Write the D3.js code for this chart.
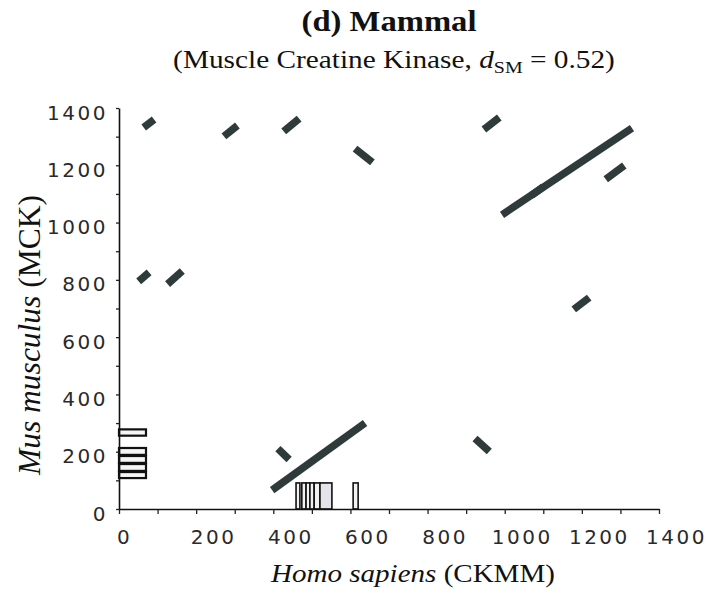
<!DOCTYPE html>
<html><head><meta charset="utf-8">
<script src="https://cdn.jsdelivr.net/npm/d3@7"></script>
<style>html,body{margin:0;padding:0;background:#fff;} svg{display:block}</style>
</head><body>
<svg id="chart" width="728" height="593"></svg>
<script>
// ---- data (sequence positions) ----
const xTickValues = [0,100,200,300,400,500,600,700,800,900,1000,1100,1200,1300,1400];
const xTickLabels = ["0","","200","","400","","600","","800","","1000","","1200","","1400"];
const yTickValues = [0,100,200,300,400,500,600,700,800,900,1000,1100,1200,1300,1400];
const yTickLabels = ["0","","200","","400","","600","","800","","1000","","1200","","1400"];

// alignment (dot-plot) segments: start (x0,y0) -> end (x1,y1)
const alignX0 = [64, 272, 427, 612, 946, 51, 126, 993, 1070, 1262, 1179, 923, 397, 412];
const alignY0 = [1332, 1301, 1318, 1258, 1325, 795, 785, 1027, 1095, 1151, 697, 246, 66, 211];
const alignX1 = [91, 307, 467, 657, 986, 78, 164, 1330, 1100, 1310, 1219, 960, 638, 441];
const alignY1 = [1360, 1339, 1363, 1210, 1367, 826, 831, 1330, 1125, 1199, 738, 201, 300, 173];

// low-complexity regions on Mus musculus (y axis)
const hBarY0 = [256, 189, 161, 133, 108];
const hBarY1 = [278, 213, 185, 157, 129];
const hBarX = [0, 70];

// low-complexity regions on Homo sapiens (x axis)
const vBarX0 = [459, 474, 485, 495, 506, 521, 607];
const vBarX1 = [469, 485, 495, 506, 521, 552, 620];
const vBarY = [0, 91];

// ---- drawing ----
const svg = d3.select("#chart");
const x = d3.scaleLinear().domain([0,1400]).range([119,659]);
const y = d3.scaleLinear().domain([0,1400]).range([509,108]);
const markColor = "#2f3b3b";

// bars
svg.append("g").selectAll("rect").data(hBarY0).join("rect")
  .attr("x", x(hBarX[0]))
  .attr("y", (d,i)=>y(hBarY1[i]))
  .attr("width", x(hBarX[1]) - x(hBarX[0]))
  .attr("height", (d,i)=>y(hBarY0[i]) - y(hBarY1[i]))
  .attr("fill", "#f6f6f6").attr("stroke", "#111").attr("stroke-width", 2.2);

svg.append("g").selectAll("rect").data(vBarX0).join("rect")
  .attr("x", d=>x(d))
  .attr("y", y(vBarY[1]))
  .attr("width", (d,i)=>x(vBarX1[i]) - x(d))
  .attr("height", y(vBarY[0]) - y(vBarY[1]))
  .attr("fill", (d,i)=> i===5 ? "#e4e4ea" : "#f2f2f2").attr("stroke", "#111").attr("stroke-width", 1.6);

// alignment segments
svg.append("g").selectAll("line").data(alignX0).join("line")
  .attr("x1", d=>x(d)).attr("y1", (d,i)=>y(alignY0[i]))
  .attr("x2", (d,i)=>x(alignX1[i])).attr("y2", (d,i)=>y(alignY1[i]))
  .attr("stroke", markColor).attr("stroke-width", 7.5).attr("stroke-linecap", "butt");

// axes
const tickFont = "'DejaVu Sans', Verdana, sans-serif";
const xAxis = d3.axisBottom(x).tickValues(xTickValues).tickFormat((d,i)=>xTickLabels[i])
  .tickSize(5).tickSizeOuter(0).tickPadding(0);
const gx = svg.append("g").attr("transform", `translate(0,${y(0)})`).call(xAxis);
gx.select(".domain").attr("stroke", "#111").attr("stroke-width", 1.6);
gx.selectAll(".tick line").attr("stroke", "#222").attr("stroke-width", 1.3);
gx.selectAll(".tick text")
  .attr("font-family", tickFont).attr("font-size", 20).attr("fill", "#2a2a2a")
  .attr("letter-spacing", "2.5px")
  .attr("dy", null).attr("y", 35)
  .attr("x", (d,i)=> xTickLabels[i] === "0" ? 5 : 17);

const yAxis = d3.axisLeft(y).tickValues(yTickValues).tickFormat((d,i)=>yTickLabels[i])
  .tickSize(3).tickSizeOuter(0).tickPadding(0);
const gy = svg.append("g").attr("transform", `translate(${x(0)},0)`).call(yAxis);
gy.select(".domain").attr("stroke", "#111").attr("stroke-width", 1.6);
gy.selectAll(".tick line").attr("stroke", "#222").attr("stroke-width", 1.3);
gy.selectAll(".tick text")
  .attr("font-family", tickFont).attr("font-size", 20).attr("fill", "#2a2a2a")
  .attr("letter-spacing", "2.5px")
  .attr("dy", null).attr("y", 11).attr("x", -11);

// text helper: centre text at (cx, baseline) and stretch to target width
function fitText(cx, base, targetW, rotate, build) {
  const g = svg.append("g");
  const t = g.append("text").attr("text-anchor", "middle")
    .attr("font-family", "'Liberation Serif', 'Times New Roman', serif").attr("fill", "#111");
  build(t);
  const w = t.node().getComputedTextLength();
  const s = targetW / w;
  g.attr("transform", `translate(${cx},${base}) rotate(${rotate}) scale(${s},1)`);
  return g;
}

fitText(389, 31, 175, 0, t => {
  t.attr("font-size", 29).attr("font-weight", "bold").text("(d) Mammal");
});
fitText(394, 68, 442, 0, t => {
  t.attr("font-size", 25);
  t.append("tspan").text("(Muscle Creatine Kinase, ");
  t.append("tspan").attr("font-style", "italic").text("d");
  t.append("tspan").attr("font-size", 17).attr("dy", 5).text("SM");
  t.append("tspan").attr("dy", -5).text(" = 0.52)");
});
fitText(413, 582, 284, 0, t => {
  t.attr("font-size", 26);
  t.append("tspan").attr("font-style", "italic").text("Homo sapiens");
  t.append("tspan").text(" (CKMM)");
});
fitText(40, 335, 280, -90, t => {
  t.attr("font-size", 31);
  t.append("tspan").attr("font-style", "italic").text("Mus musculus");
  t.append("tspan").text(" (MCK)");
});
</script>
</body></html>
